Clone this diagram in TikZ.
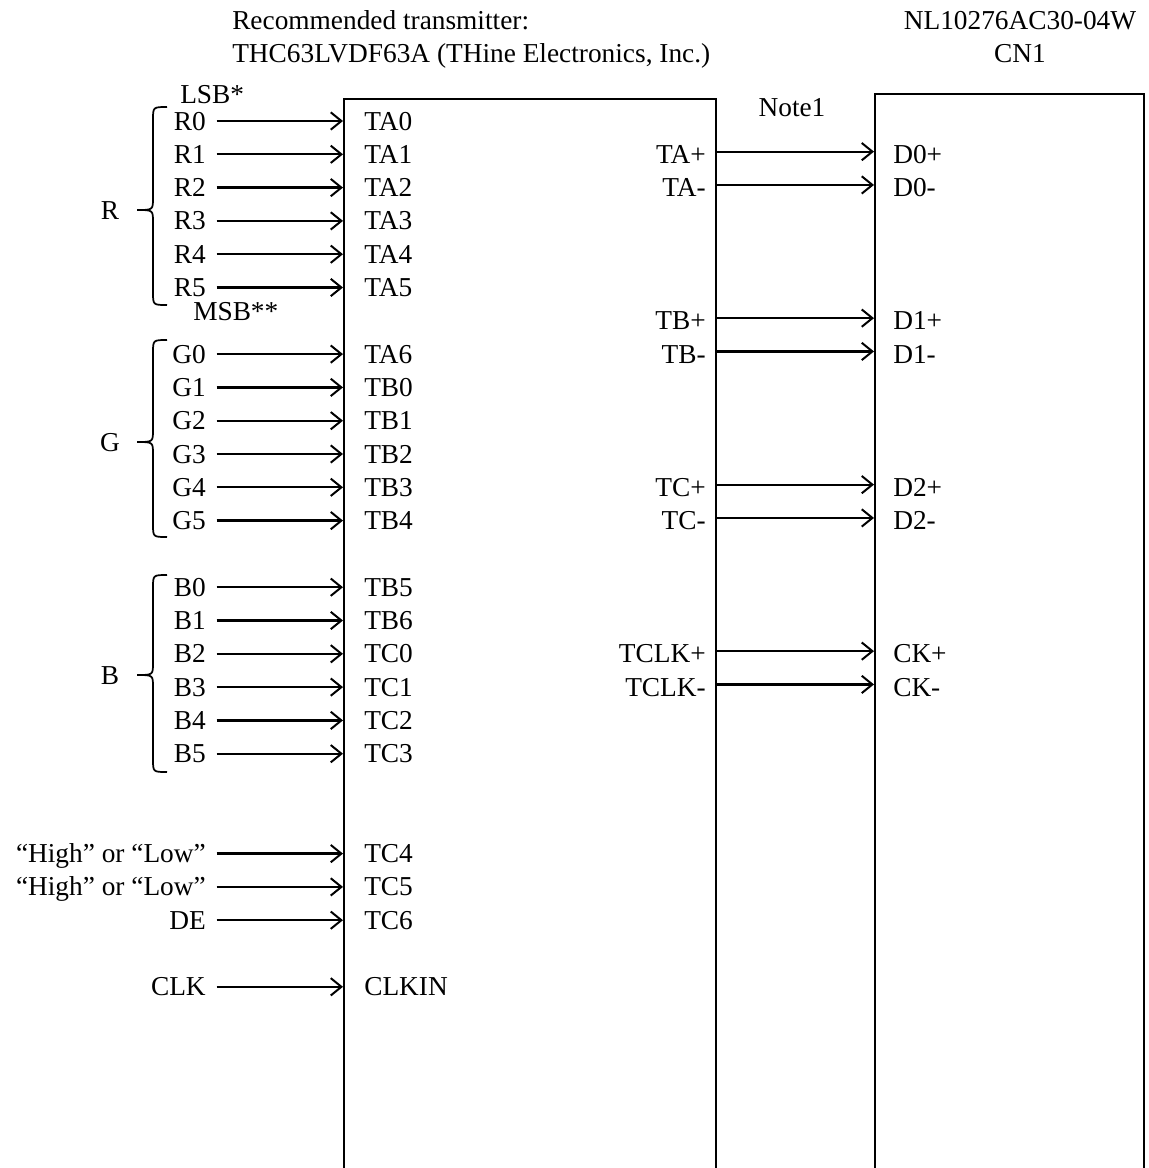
\documentclass[tikz,border=0pt]{standalone}
\usepackage{fontspec}
\setmainfont{Liberation Serif}
\usetikzlibrary{arrows.meta,fit}
\begin{document}
\begin{tikzpicture}[x=0.75pt,y=-0.75pt,
  lbl/.style={inner sep=0pt, text height=13.6pt, text depth=0pt, font=\fontsize{20.5}{24}\selectfont},
  sig/.style={line width=1.7pt, -{Straight Barb[length=8pt,width=13pt,line width=1.5pt]}},
  boxst/.style={draw, line width=1.5pt, inner sep=0pt},
  brc/.style={line width=1.3pt}]
\useasboundingbox (0,0) rectangle (1149,1168);
% boxes (open below the picture edge)
\node[boxst, fit={(344,99)(716,1200)}] (tx) {};
\node[boxst, fit={(875,94)(1144,1200)}] (cn) {};
% titles
\node[lbl, anchor=west] (t1) at (232,20) {Recommended transmitter:};
\node[lbl, anchor=west] (t2) at (232,53) {THC63LVDF63A (THine Electronics, Inc.)};
\node[lbl] (t3) at (1020,20) {NL10276AC30-04W};
\node[lbl] (t4) at (1020,53) {CN1};
\node[lbl] (note) at (792,107) {Note1};
\node[lbl, anchor=west] (lsb) at (180,94) {LSB*};
\node[lbl, anchor=west] (msb) at (193,311) {MSB**};
% input rows
\foreach \src/\dst/\i in {R0/TA0/0,R1/TA1/1,R2/TA2/2,R3/TA3/3,R4/TA4/4,R5/TA5/5,
  G0/TA6/7,G1/TB0/8,G2/TB1/9,G3/TB2/10,G4/TB3/11,G5/TB4/12,
  B0/TB5/14,B1/TB6/15,B2/TC0/16,B3/TC1/17,B4/TC2/18,B5/TC3/19,
  {``High'' or ``Low''}/TC4/22,{``High'' or ``Low''}/TC5/23,DE/TC6/24,CLK/CLKIN/26}{
  \pgfmathsetmacro{\yy}{121+33.3*\i}
  \node[lbl, anchor=east] (s\i) at (206,\yy) {\src};
  \node[lbl, anchor=west] (d\i) at (364,\yy) {\dst};
  \draw[sig] ([xshift=8pt]s\i.east) -- (s\i.east -| tx.west);
}
% output rows
\foreach \src/\dst/\i in {TA+/D0+/1,TA-/D0-/2,TB+/D1+/6,TB-/D1-/7,TC+/D2+/11,TC-/D2-/12,TCLK+/CK+/16,TCLK-/CK-/17}{
  \pgfmathsetmacro{\yy}{121+33.3*\i}
  \node[lbl, anchor=east] (o\i) at (706,\yy) {\src};
  \node[lbl, anchor=west] (p\i) at (893,\yy) {\dst};
  \draw[sig] ([yshift=2pt]o\i.center -| tx.east) -- ([yshift=2pt]o\i.center -| cn.west);
}
% braces
\foreach \top/\bot/\mid/\name in {107/305/210/R,340/537/442/G,575/772/675/B}{
  \draw[brc] (167,\top) .. controls (153,\top) .. (153,\top+13)
    -- (153,\mid-12) .. controls (153,\mid) .. (137,\mid)
    .. controls (153,\mid) .. (153,\mid+12)
    -- (153,\bot-13) .. controls (153,\bot) .. (167,\bot);
  \node[lbl] (g\name) at (110,\mid) {\name};
}
\end{tikzpicture}
\end{document}
